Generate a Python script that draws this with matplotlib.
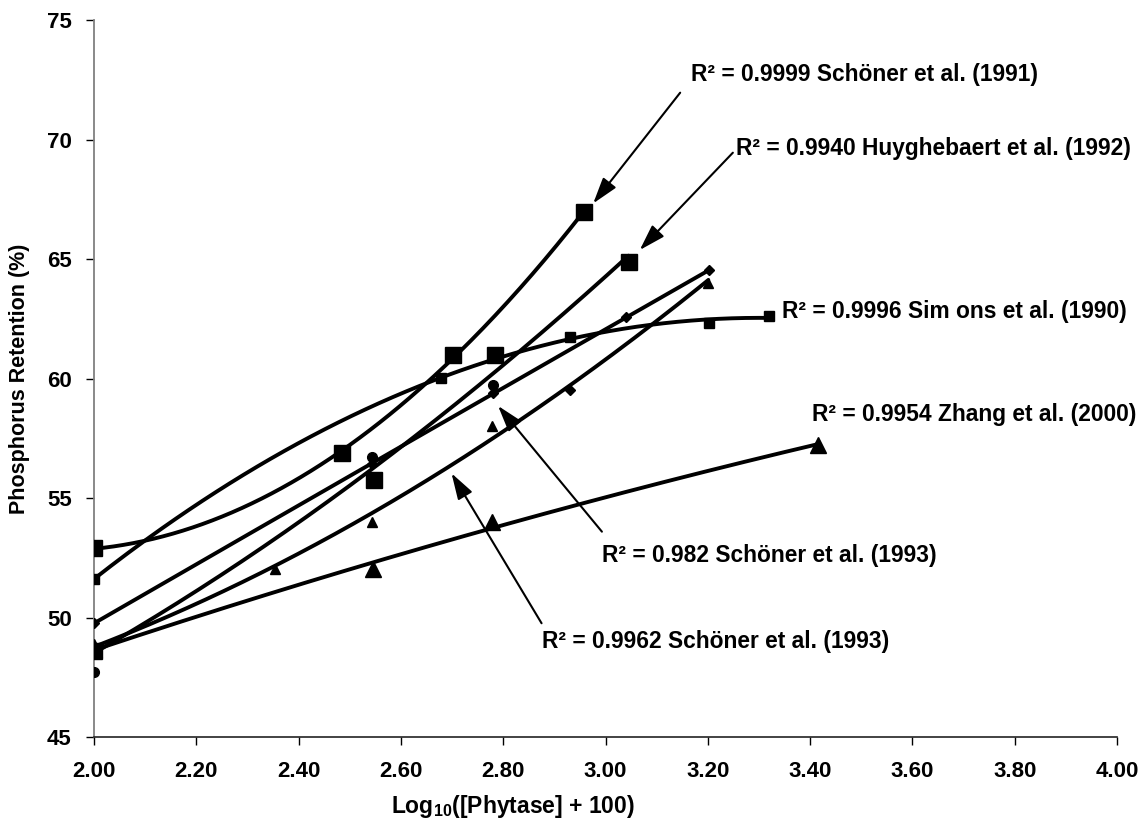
import numpy as np
import matplotlib
matplotlib.use("Agg")
import matplotlib.pyplot as plt
from matplotlib.ticker import FormatStrFormatter

plt.rcParams['font.family'] = ['Liberation Sans', 'DejaVu Sans']
plt.rcParams['font.weight'] = 'bold'
plt.rcParams['mathtext.fontset'] = 'custom'
plt.rcParams['mathtext.rm'] = 'Liberation Sans:bold'
plt.rcParams['mathtext.bf'] = 'Liberation Sans:bold'
plt.rcParams['mathtext.it'] = 'Liberation Sans:bold'
plt.rcParams['mathtext.default'] = 'bf'

# ---------------- data ----------------
schoner91_x = [2.00, 2.484, 2.702, 2.958]
schoner91_y = [52.9, 56.88, 60.99, 66.96]

huyg92_x = [2.00, 2.548, 2.784, 3.045]
huyg92_y = [48.6, 55.76, 60.99, 64.89]

simons_x = [2.00, 2.678, 2.931, 3.203, 3.32]
simons_y = [51.62, 60.01, 61.75, 62.34, 62.62]

zhang_x = [2.00, 2.545, 2.779, 3.415]
zhang_y = [48.7, 52.03, 54.02, 57.22]

schoner93a_x = [2.00, 2.544, 2.781, 3.041, 3.203]   # diamonds, R2 = 0.982
schoner93a_y = [49.77, 56.45, 59.4, 62.57, 64.54]

schoner93b_x = [2.00, 2.354, 2.544, 2.779, 3.201]   # small triangles, R2 = 0.9962
schoner93b_y = [48.9, 52.03, 54.02, 58.02, 63.99]

circles_x = [2.00, 2.544, 2.781]
circles_y = [47.74, 56.71, 59.73]

extra_diamond_x = [2.931]
extra_diamond_y = [59.53]

x_ticks = [2.00, 2.20, 2.40, 2.60, 2.80, 3.00, 3.20, 3.40, 3.60, 3.80, 4.00]
y_ticks = [45, 50, 55, 60, 65, 70, 75]

labels = [
    "R² = 0.9999 Schöner et al. (1991)",
    "R² = 0.9940 Huyghebaert et al. (1992)",
    "R² = 0.9996 Sim ons et al. (1990)",
    "R² = 0.9954 Zhang et al. (2000)",
    "R² = 0.982 Schöner et al. (1993)",
    "R² = 0.9962 Schöner et al. (1993)",
]
label_pos = [(3.168, 72.70), (3.256, 69.63), (3.346, 62.80),
             (3.403, 58.48), (2.993, 52.62), (2.875, 49.00)]
arrow_tips = [(2.976, 67.33), (3.067, 65.38), None, None,
              (2.790, 58.86), (2.699, 56.04)]
arrow_tails = [(3.146, 71.96), (3.249, 69.45), None, None,
               (2.993, 53.60), (2.875, 49.77)]

# ---------------- figure ----------------
fig = plt.figure(figsize=(11.43, 8.30), dpi=100)
ax = fig.add_axes([94 / 1143, 1 - 737.3 / 830, 1023 / 1143, 717.3 / 830])

series = [
    (schoner91_x, schoner91_y, 's', 11),
    (huyg92_x, huyg92_y, 's', 11),
    (simons_x, simons_y, 's', 6.5),
    (zhang_x, zhang_y, '^', 11),
    (schoner93a_x, schoner93a_y, 'D', 5.5),
    (schoner93b_x, schoner93b_y, '^', 7),
]

for xs, ys, mk, ms in series:
    coef = np.polyfit(xs, ys, 2)
    xx = np.linspace(min(xs), max(xs), 200)
    ax.plot(xx, np.polyval(coef, xx), color='black', lw=2.8, zorder=2,
            solid_capstyle='round')
    ax.plot(xs, ys, linestyle='none', marker=mk, markersize=ms,
            color='black', zorder=3)

ax.plot(circles_x, circles_y, linestyle='none', marker='o', markersize=7,
        color='black', zorder=4)
ax.plot(extra_diamond_x, extra_diamond_y, linestyle='none', marker='D',
        markersize=5.5, color='black', zorder=4)

for txt, pos in zip(labels, label_pos):
    ax.text(pos[0], pos[1], txt, fontsize=16.4, fontweight='bold',
            ha='left', va='center', zorder=5)

for tip, tail in zip(arrow_tips, arrow_tails):
    if tip is None:
        continue
    ax.annotate('', xy=tip, xytext=tail,
                arrowprops=dict(arrowstyle='-|>,head_length=0.8,head_width=0.25',
                                mutation_scale=20, color='black', lw=1.5,
                                shrinkA=0, shrinkB=0), zorder=5)

ax.set_xlim(2.0, 4.0)
ax.set_ylim(45, 75)
ax.set_xticks(x_ticks)
ax.set_yticks(y_ticks)
ax.xaxis.set_major_formatter(FormatStrFormatter('%.2f'))

for s in ['top', 'right']:
    ax.spines[s].set_visible(False)
ax.spines['left'].set_color('#808080')
ax.spines['left'].set_linewidth(1.3)
ax.spines['bottom'].set_color('#222222')
ax.spines['bottom'].set_linewidth(1.2)

ax.tick_params(axis='both', direction='out', length=6, width=1,
               color='black', labelsize=16)
ax.tick_params(axis='x', pad=11)
ax.tick_params(axis='y', pad=10)
for lab in ax.get_xticklabels() + ax.get_yticklabels():
    lab.set_fontweight('bold')

ax.set_ylabel("Phosphorus Retention (%)", fontsize=15.5, fontweight='bold')
ax.yaxis.set_label_coords(-(94 - 20) / 1023, 0.5)
ax.set_xlabel("Log$_{10}$([Phytase] + 100)", fontsize=16.5, fontweight='bold')
ax.xaxis.set_label_coords((513 - 94) / 1023, -(806 - 737.3) / 717.3)
ax.xaxis.label.set_verticalalignment('center')
ax.yaxis.label.set_verticalalignment('center')

fig.savefig("out.png", dpi=100)
